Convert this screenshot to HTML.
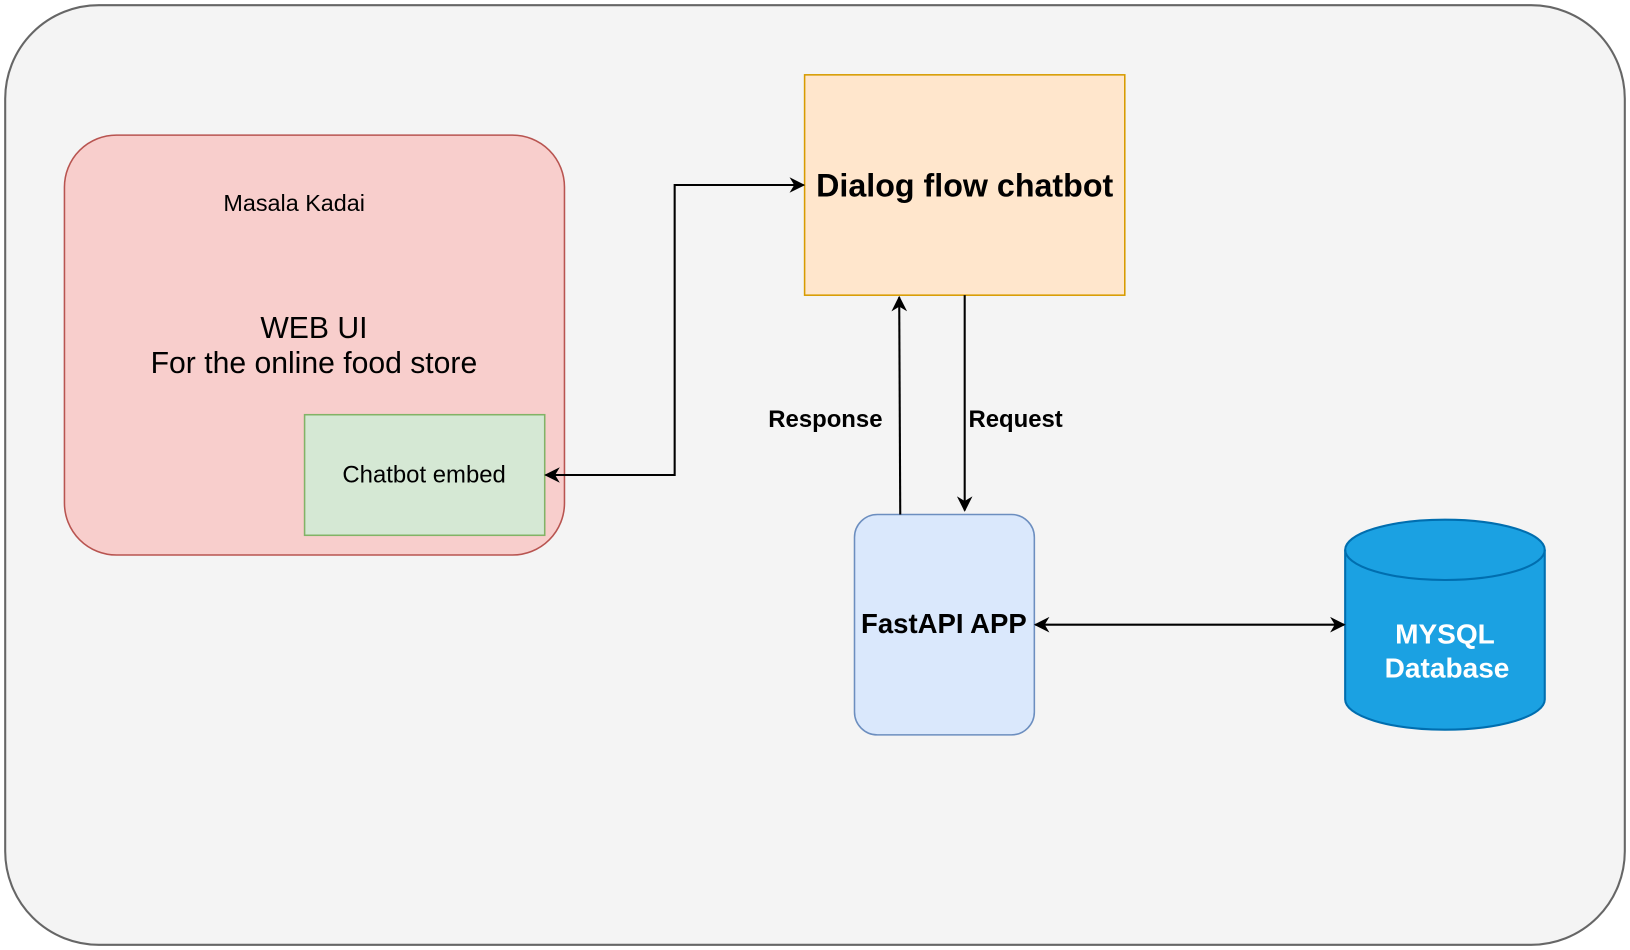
<!DOCTYPE html>
<html><head><style>html,body{margin:0;padding:0;background:#fff}svg{display:block}</style></head>
<body>
<svg width="1630" height="950" viewBox="0 0 1568 914" preserveAspectRatio="none" xmlns="http://www.w3.org/2000/svg" font-family="Liberation Sans, Arial, sans-serif">
<defs>
<marker id="a" viewBox="0 0 10 10" refX="9" refY="5" markerWidth="15" markerHeight="15" markerUnits="userSpaceOnUse" orient="auto-start-reverse">
<path d="M0,0 L10,5 L0,10 L3,5 Z" fill="#000"/></marker>
</defs>
<rect x="5" y="5" width="1558" height="904" rx="90" fill="#f4f4f4" stroke="#666" stroke-width="2"/>
<rect x="62" y="130" width="481" height="404" rx="50" fill="#f8cecc" stroke="#b85450" stroke-width="1.5"/>
<text x="283" y="203" font-size="22.5" text-anchor="middle">Masala Kadai</text>
<text x="302" y="325" font-size="29" text-anchor="middle">WEB UI</text>
<text x="302" y="359" font-size="29" text-anchor="middle">For the online food store</text>
<rect x="293" y="399" width="231" height="116" fill="#d5e8d4" stroke="#82b366" stroke-width="1.5"/>
<text x="408" y="464" font-size="23" text-anchor="middle">Chatbot embed</text>
<rect x="774" y="72" width="308" height="212" fill="#ffe6cc" stroke="#d79b00" stroke-width="1.5"/>
<text x="928" y="189" font-size="31" font-weight="bold" text-anchor="middle">Dialog flow chatbot</text>
<rect x="822" y="495" width="173" height="212" rx="22" fill="#dae8fc" stroke="#6c8ebf" stroke-width="1.5"/>
<text x="908" y="609" font-size="26.5" font-weight="bold" text-anchor="middle">FastAPI APP</text>
<path d="M1294,529 L1294,673 A96,29 0 0 0 1486,673 L1486,529 A96,29 0 0 0 1294,529 Z" fill="#1ba1e2" stroke="#006eaf" stroke-width="2"/>
<path d="M1294,529 A96,29 0 0 0 1486,529" fill="none" stroke="#006eaf" stroke-width="2"/>
<text x="1390" y="619" font-size="27" font-weight="bold" fill="#fff" text-anchor="middle">MYSQL</text>
<text x="1392" y="652" font-size="27" font-weight="bold" fill="#fff" text-anchor="middle">Database</text>
<path d="M525,457 L649,457 L649,178 L773,178" fill="none" stroke="#000" stroke-width="2" marker-start="url(#a)" marker-end="url(#a)"/>
<path d="M866,495 L865,286" fill="none" stroke="#000" stroke-width="2" marker-end="url(#a)"/>
<path d="M928,284 L928,491" fill="none" stroke="#000" stroke-width="2" marker-end="url(#a)"/>
<path d="M996,601 L1293,601" fill="none" stroke="#000" stroke-width="2" marker-start="url(#a)" marker-end="url(#a)"/>
<text x="794" y="411" font-size="23" font-weight="bold" text-anchor="middle">Response</text>
<text x="977" y="411" font-size="23" font-weight="bold" text-anchor="middle">Request</text>
</svg>
</body></html>
